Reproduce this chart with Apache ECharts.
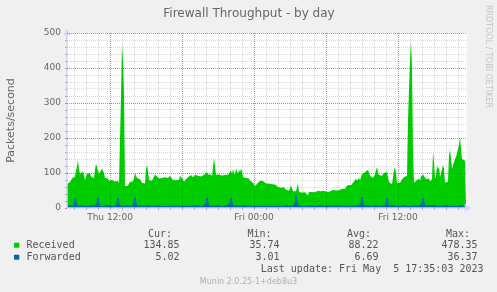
<!DOCTYPE html>
<html><head><meta charset="utf-8">
<script src="https://cdn.jsdelivr.net/npm/echarts@6/dist/echarts.min.js"></script>
<style>html,body{margin:0;padding:0;background:#f0f0f0}#c{width:497px;height:292px}</style>
</head><body><div id="c"></div>
<script>
const chartTitle = 'Firewall Throughput - by day';
const yAxisName = 'Packets/second';
const seriesNames = ['Received', 'Forwarded'];
const seriesColors = ['#00cc00', '#0066b3'];
// time in minutes since Thu 00:00; one sample per 5 minutes, first at Thu 08:25
const startMinutes = 8 * 60 + 25;
const stepMinutes = 5;
const xMin = 505, xMax = 2505;
const xTickLabels = ['Thu 12:00', 'Fri 00:00', 'Fri 12:00'];
const xTickValues = [720, 1440, 2160];
const yMin = 0, yMax = 500, yStep = 100, yMinorStep = 20;
const received = [
  68,72,66,74,70, 84,88,82,90,95, 120,137,110, 98,100,96,104,92, 80,84,
  98,102,95,100,90, 88,92,85, 110,126,118, 104,98,100,95, 112,117,100,
  86,82,88,84, 78,82,76, 80,78,82,76,80,74,78, 71,68, 320,465,420,330,
  62,58,60,64,60, 75,78,80,76,84, 100,92, 86,88,84,82,86, 72,70,74,70,
  110,123,105, 80,76,84,78,82,75, 96,100,90, 86,84,88,82,86,90,84,88,
  90,88,86,90,92,87,89, 80,78,82,79,83,76,80, 92,97, 84,80,76,80,82,78,
  88,90,92,94,90,88,92,95,93,90,92,96,94,90,91,93,95,92,
  98,102,96, 94,92,96,90,94, 143,120,
  95,98,92,96,94,99,93,90,96,94,92,97,95,93,96,
  108,96,112,100,94,114,104,98,110,102,112,106,
  88,86,84,86,82,86,84, 78,76,74,72,70, 62,58,64, 72,75,78,76,74,77,75,73,
  70,68,72,70,66,70,68,71,69,67,70,68, 60,58,56,58,55,57,59,56,
  52,50,52,49,51, 64,66, 48,46,50,48,52, 71,
  46,45,47,44,46,48,45,44,47,35.74,46,44,
  47,46,48,46,45,48,47,49,46,47,48,46,47,49,48,47,46,48,50,47,49,
  50,52,51,53,50,52,54,51,53,52,55,53,52,54, 60,64,66,62,68,65,67,63,
  76,80,84,78,82,86,80,84, 96,100,94,102,98,104,109,100,
  92,88,94,86,90,96, 108,117,102, 94,90,96,92,94, 100,104,98,103,100,
  74,70,72,68,72, 108,117,100, 72,70,74,72,76, 82,86,88,84,90,92,
  250,340,420,478.35,400,160, 72,74, 78,82,80,84,78, 90,94,96,92,95,
  82,78,80,84,76,80,82, 160,130, 84,90, 123,110,118, 88,84,90, 123,112,
  72,70,74,76, 150,166,140, 112,108,115, 140,146,150,145, 180,203,170,
  140,138,142,135,134.85
];
const forwarded = [
  4,5,5,6,5,4,5,12,28,14,5,4,5,6,5,5,4,5,6,5,
  5,4,5,6,8,6,5,4,5,6,14,29,12,5,6,5,4,5,5,6,
  5,4,6,8,7,5,5,4,5,6,12,28,10,5,4,5,6,5,4,5,
  6,5,4,5,5,6,5,10,30,12,5,4,5,6,5,4,5,8,7,5,
  5,4,6,5,5,4,5,6,5,4,5,6,5,5,4,6,5,5,6,5,
  4,5,6,5,5,4,5,6,7,5,4,5,5,6,5,4,5,6,5,5,
  4,5,6,5,4,5,6,5,5,4,6,5,5,4,5,6,5,4,5,12,
  29,14,5,4,6,5,8,7,5,5,4,6,5,5,4,5,6,5,4,5,
  6,5,4,12,28,13,5,4,5,6,5,4,5,5,6,5,4,5,6,5,
  5,4,5,6,5,4,5,5,6,5,4,5,6,5,4,5,5,6,5,4,
  5,6,5,4,5,5,6,5,4,5,6,5,4,5,5,6,5,4,5,5,
  6,5,4,5,5,6,5,4,12,36.37,20,6,5,4,5,6,5,4,5,6,
  5,4,5,6,5,3.01,5,6,5,4,5,5,6,5,4,5,6,5,4,5,
  5,6,5,4,5,5,6,5,4,5,6,5,4,5,5,6,5,4,6,5,
  5,4,5,6,5,4,5,6,5,4,5,6,5,4,10,31,14,5,4,5,
  6,5,4,5,6,5,4,5,5,6,5,4,5,6,5,4,5,5,6,12,
  29,12,5,4,5,6,5,4,5,6,5,4,5,6,5,4,5,6,5,4,
  5,6,5,4,5,6,5,4,5,6,5,4,5,6,5,12,28,12,5,4,
  5,6,8,8,7,8,8,7,6,5,4,5,6,5,4,5,5,6,8,7,
  5,4,5,6,5,4,5,6,5,4,8,5,4,5,6,5,4,5,6,5.02
];
const statHeaders = ['Cur:', 'Min:', 'Avg:', 'Max:'];
const receivedStats = ['134.85', '35.74', '88.22', '478.35'];
const forwardedStats = ['5.02', '3.01', '6.69', '36.37'];
const lastUpdate = 'Last update: Fri May  5 17:35:03 2023';
const versionText = 'Munin 2.0.25-1+deb8u3';
const watermark = 'RRDTOOL / TOBI OETIKER';

(function () {
function pairs(arr) { return arr.map(function (v, i) { return [startMinutes + i * stepMinutes, v]; }); }

const FONT = '#666666';
const AXIS = '#CFD6F8';
const MAJOR = 'rgba(255,0,0,0.55)';
const MINOR = 'rgba(100,100,100,0.24)';

const hourMarks = [];
for (let t = Math.ceil(xMin / 60) * 60; t < xMax; t += 60) hourMarks.push(t);

const chart = echarts.init(document.getElementById('c'), null, { renderer: 'canvas' });

const cols = [172, 271.5, 371, 470];
const valCols = [179.5, 279.5, 378.5, 477.5];
const graphics = [];
function txt(x, y, text, opts) {
  graphics.push({
    type: 'text', x: x, y: y, silent: true,
    style: Object.assign({ text: text, fill: '#555', font: '10px "DejaVu Sans Mono"', align: 'left', verticalAlign: 'middle' }, opts || {})
  });
}
graphics.push({ type: 'text', x: 249, y: 14, style: { text: chartTitle, fill: FONT, font: '12px "DejaVu Sans"', align: 'center', verticalAlign: 'middle' } });
graphics.push({ type: 'text', x: 11, y: 120.5, rotation: Math.PI / 2, style: { text: yAxisName, fill: FONT, font: '11px "DejaVu Sans"', align: 'center', verticalAlign: 'middle' } });
graphics.push({ type: 'text', x: 488.5, y: 56.5, rotation: -Math.PI / 2, style: { text: watermark, fill: '#c4c4c4', font: '8px "DejaVu Sans"', align: 'center', verticalAlign: 'middle' } });
statHeaders.forEach(function (h, k) { txt(cols[k], 234, h, { align: 'right' }); });
graphics.push({ type: 'rect', shape: { x: 14, y: 242.7, width: 5.3, height: 5 }, style: { fill: seriesColors[0] } });
graphics.push({ type: 'rect', shape: { x: 14, y: 254.7, width: 5.3, height: 5 }, style: { fill: seriesColors[1] } });
txt(26.5, 245.5, seriesNames[0]);
txt(26.5, 257.5, seriesNames[1]);
receivedStats.forEach(function (s, k) { txt(valCols[k], 245.5, s, { align: 'right' }); });
forwardedStats.forEach(function (s, k) { txt(valCols[k], 257.5, s, { align: 'right' }); });
txt(483.5, 269.5, lastUpdate, { align: 'right' });
graphics.push({ type: 'text', x: 248.5, y: 282, style: { text: versionText, fill: '#b0b0b0', font: '8px "DejaVu Sans"', align: 'center', verticalAlign: 'middle' } });

const option = {
  backgroundColor: '#f0f0f0',
  animation: false,
  grid: { left: 67, right: 30, top: 33, bottom: 84, show: true, backgroundColor: '#ffffff', borderWidth: 0 },
  xAxis: {
    type: 'value', min: xMin, max: xMax, z: 6,
    axisLine: { show: true, onZero: false, lineStyle: { color: AXIS, width: 1.5 }, symbol: ['none', 'arrow'], symbolSize: [6, 7], symbolOffset: [0, 4] },
    axisTick: { show: true, customValues: hourMarks, length: 2, lineStyle: { color: '#b0b0b0' } },
    axisLabel: { customValues: xTickValues, color: FONT, fontSize: 9, fontFamily: 'DejaVu Sans', margin: 5,
      formatter: function (v) { const k = xTickValues.indexOf(v); return k >= 0 ? xTickLabels[k] : ''; } },
    splitLine: { show: false }
  },
  yAxis: {
    type: 'value', min: yMin, max: yMax, interval: yStep, z: 6,
    axisLine: { show: true, lineStyle: { color: AXIS, width: 1.5 }, symbol: ['none', 'arrow'], symbolSize: [6, 7], symbolOffset: [0, 4] },
    axisTick: { show: true, length: 2, lineStyle: { color: 'rgba(255,0,0,0.5)' } },
    minorTick: { show: true, splitNumber: 5, length: 2, lineStyle: { color: '#b0b0b0' } },
    axisLabel: { color: FONT, fontSize: 9, fontFamily: 'DejaVu Sans', margin: 6 },
    splitLine: { show: false },
    minorSplitLine: { show: false }
  },
  series: [{
    name: seriesNames[0], type: 'line', data: pairs(received), symbol: 'none', sampling: null, z: 2,
    itemStyle: { color: seriesColors[0] },
    lineStyle: { width: 0, color: seriesColors[0] },
    areaStyle: { color: seriesColors[0], opacity: 1 }
  }, {
    name: seriesNames[1], type: 'line', data: pairs(forwarded), symbol: 'none', sampling: null, z: 3,
    itemStyle: { color: seriesColors[1] },
    lineStyle: { width: 1.2, color: seriesColors[1] },
    areaStyle: { color: seriesColors[1], opacity: 1 }
  }],
  graphic: graphics
};
chart.setOption(option);

// grid drawn over the data (as rrdtool does), positioned with the chart's own scales
const gLeft = chart.convertToPixel({ xAxisIndex: 0 }, xMin);
const gRight = chart.convertToPixel({ xAxisIndex: 0 }, xMax);
const gTop = chart.convertToPixel({ yAxisIndex: 0 }, yMax);
const gBottom = chart.convertToPixel({ yAxisIndex: 0 }, yMin);
const gridEls = [];
function snap(p) { return Math.round(p - 0.5) + 0.5; }
hourMarks.forEach(function (t) {
  const px = snap(chart.convertToPixel({ xAxisIndex: 0 }, t));
  gridEls.push({ type: 'line', z: 20, silent: true, shape: { x1: px, y1: gTop, x2: px, y2: gBottom },
    style: { stroke: t % 360 === 0 ? MAJOR : MINOR, lineWidth: 1, lineDash: [1, 1] } });
});
for (let v = yMin + yMinorStep; v <= yMax; v += yMinorStep) {
  const py = snap(chart.convertToPixel({ yAxisIndex: 0 }, v));
  gridEls.push({ type: 'line', z: 20, silent: true, shape: { x1: gLeft, y1: py, x2: gRight, y2: py },
    style: { stroke: v % yStep === 0 ? MAJOR : MINOR, lineWidth: 1, lineDash: [1, 1] } });
}
chart.setOption({ graphic: graphics.concat(gridEls) });
})();
</script>
</body></html>
